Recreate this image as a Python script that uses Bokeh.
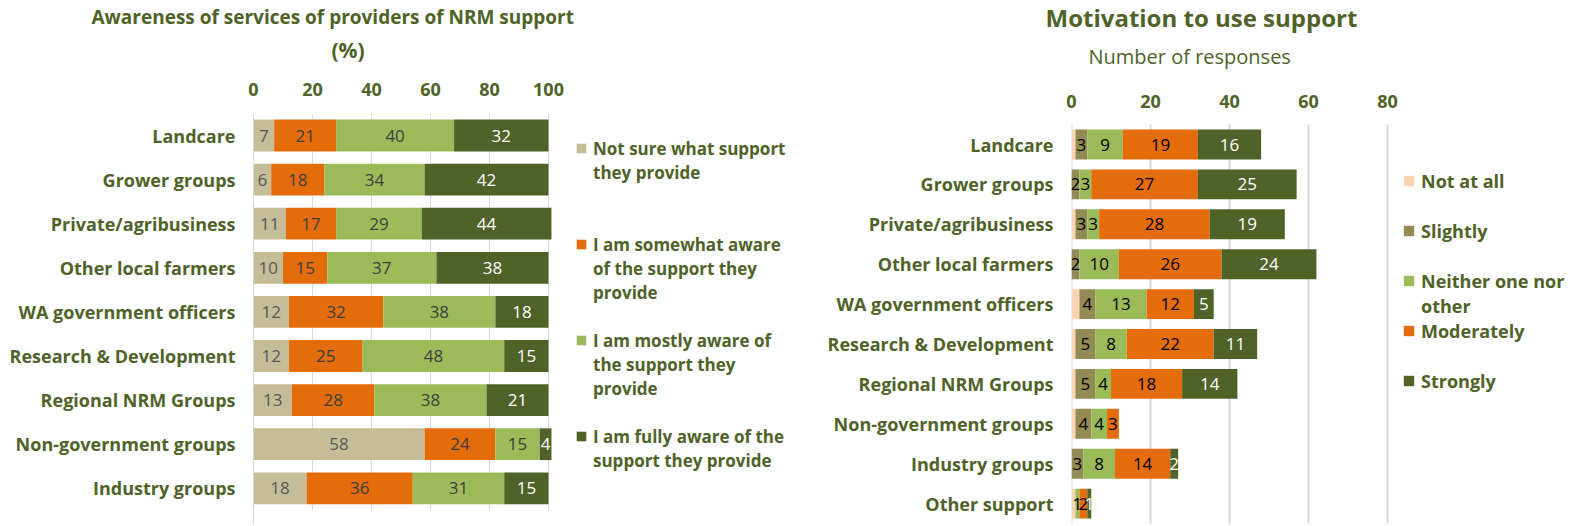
import numpy as np
from bokeh.plotting import figure
from bokeh.models import ColumnDataSource, Range1d, Legend, LegendItem, Title, FixedTicker
from bokeh.layouts import row
from bokeh.embed import file_html
from bokeh.resources import INLINE
from bokeh.core.properties import value

# ---------------- data ----------------
aw_providers = ["Landcare", "Grower groups", "Private/agribusiness", "Other local farmers",
                "WA government officers", "Research & Development", "Regional NRM Groups",
                "Non-government groups", "Industry groups"]
aw_not_sure = [7, 6, 11, 10, 12, 12, 13, 58, 18]
aw_somewhat = [21, 18, 17, 15, 32, 25, 28, 24, 36]
aw_mostly = [40, 34, 29, 37, 38, 48, 38, 15, 31]
aw_fully = [32, 42, 44, 38, 18, 15, 21, 4, 15]
aw_labels = ["Not sure what support\nthey provide",
             "I am somewhat aware\nof the support they\nprovide",
             "I am mostly aware of\nthe support they\nprovide",
             "I am fully aware of the\nsupport they provide"]
aw_ticks = [0, 20, 40, 60, 80, 100]

mo_providers = ["Landcare", "Grower groups", "Private/agribusiness", "Other local farmers",
                "WA government officers", "Research & Development", "Regional NRM Groups",
                "Non-government groups", "Industry groups", "Other support"]
mo_not_at_all = [1, 0, 1, 0, 2, 1, 1, 1, 0, 1]
mo_slightly = [3, 2, 3, 2, 4, 5, 5, 4, 3, 0]
mo_neither = [9, 3, 3, 10, 13, 8, 4, 4, 8, 1]
mo_moderately = [19, 27, 28, 26, 12, 22, 18, 3, 14, 2]
mo_strongly = [16, 25, 19, 24, 5, 11, 14, 0, 2, 1]
mo_labels = ["Not at all", "Slightly", "Neither one nor\nother", "Moderately", "Strongly"]
mo_ticks = [0, 20, 40, 60, 80]

# ---------------- style / geometry ----------------
OLIVE = "#4F6228"
FONT = "Open Sans"
GRID = "#D9D9D9"
FRAME_TOP, FRAME_BOTTOM = 114.0, 524.0   # frames of the two plots are aligned by the row


def y_range_for(pitch, first_center):
    top = -(first_center - FRAME_TOP) / pitch
    bottom = top + (FRAME_BOTTOM - FRAME_TOP) / pitch
    return Range1d(start=bottom, end=top)


def style_axes(p, ticks, cats, tick_standoff, grid_w, axis_line):
    p.outline_line_color = None
    p.grid.visible = False
    xa = p.xaxis[0]
    xa.ticker = FixedTicker(ticks=ticks)
    xa.axis_line_color = None
    xa.major_tick_line_color = None
    xa.minor_tick_line_color = None
    xa.major_tick_out = 0
    xa.major_tick_in = 0
    xa.major_label_text_font = FONT
    xa.major_label_text_font_style = "bold"
    xa.major_label_text_font_size = "18px"
    xa.major_label_text_color = OLIVE
    xa.major_label_standoff = tick_standoff
    ya = p.yaxis[0]
    ya.ticker = FixedTicker(ticks=list(range(len(cats))))
    ya.major_label_overrides = {i: c for i, c in enumerate(cats)}
    ya.axis_line_color = GRID if axis_line else None
    ya.major_tick_line_color = None
    ya.minor_tick_line_color = None
    ya.major_tick_out = 0
    ya.major_tick_in = 0
    ya.major_label_text_font = FONT
    ya.major_label_text_font_style = "bold"
    ya.major_label_text_font_size = "18px"
    ya.major_label_text_color = OLIVE
    ya.major_label_standoff = 18
    # vertical grid lines at the value ticks, spanning the category band
    n = len(cats)
    p.segment(x0=ticks, x1=ticks, y0=[-0.5] * len(ticks), y1=[n - 0.5] * len(ticks),
              line_color=GRID, line_width=grid_w)


def add_labels(p, ypos, series, colors, show):
    cum = np.zeros(len(ypos))
    for vals, col, sh in zip(series, colors, show):
        v = np.array(vals, dtype=float)
        centers = cum + v / 2
        cum = cum + v
        if not sh:
            continue
        keep = [i for i in range(len(ypos)) if vals[i] > 0]
        p.text(x=[centers[i] for i in keep], y=[ypos[i] for i in keep],
               text=[str(vals[i]) for i in keep], text_align="center", text_baseline="middle",
               text_font=value(FONT), text_font_size="17px", text_color=col)


def legend_items(labels, renderers, slots):
    items = []
    for lab, r, n in zip(labels, renderers, slots):
        lines = lab.split("\n")
        items.append(LegendItem(label=lines[0], renderers=[r]))
        for ln in lines[1:]:
            items.append(LegendItem(label=ln, renderers=[]))
        for _ in range(n - len(lines)):
            items.append(LegendItem(label=" ", renderers=[]))
    return items


def make_legend(items, loc, size, line_h, glyph):
    return Legend(items=items, location=loc, border_line_color=None, background_fill_alpha=0,
                  label_text_font=FONT, label_text_font_style="bold", label_text_font_size=size,
                  label_text_color=OLIVE, label_height=line_h, glyph_width=glyph, glyph_height=glyph,
                  label_standoff=6, spacing=0, padding=0, margin=0)


# ---------------- left chart ----------------
aw_y = list(range(len(aw_providers)))
p1 = figure(width=808, height=526, y_range=y_range_for(44.1, 135),
            x_range=Range1d(0, 100 * 555 / 295), x_axis_location="above", output_backend="svg",
            toolbar_location=None, min_border_left=253, min_border_right=0,
            min_border_top=114, min_border_bottom=2)
style_axes(p1, aw_ticks, aw_providers, 19, 1, True)

aw_keys = ["not_sure", "somewhat", "mostly", "fully"]
aw_colors = ["#C4BD97", "#E46C0A", "#9BBB59", "#4F6228"]
src1 = ColumnDataSource(dict(y=aw_y, not_sure=aw_not_sure, somewhat=aw_somewhat,
                             mostly=aw_mostly, fully=aw_fully))
r1 = p1.hbar_stack(aw_keys, y="y", height=0.72, fill_color=aw_colors, line_color=None, source=src1)
add_labels(p1, aw_y, [aw_not_sure, aw_somewhat, aw_mostly, aw_fully],
           ["#595959", "#404040", "#404040", "#FFFFFF"], [True, True, True, True])

p1.add_layout(make_legend(legend_items(aw_labels, r1, [4, 4, 4, 2]), (322, 52), "17px", 24, 12), "center")
p1.add_layout(Title(text="(%)", align="left", offset=78, text_font=FONT, text_font_style="bold",
                    text_font_size="21px", text_color=OLIVE, standoff=31), "above")
p1.add_layout(Title(text="Awareness of services of providers of NRM support", align="left", offset=-162,
                    text_font=FONT, text_font_style="bold", text_font_size="19px", text_color=OLIVE,
                    standoff=-23), "above")

# ---------------- right chart ----------------
mo_y = list(range(len(mo_providers)))
p2 = figure(width=762, height=526, y_range=y_range_for(39.9, 144),
            x_range=Range1d(0, 80 * 499 / 316), x_axis_location="above", output_backend="svg",
            toolbar_location=None, min_border_left=263, min_border_right=0,
            min_border_top=114, min_border_bottom=2)
style_axes(p2, mo_ticks, mo_providers, 7, 2, False)

mo_keys = ["not_at_all", "slightly", "neither", "moderately", "strongly"]
mo_colors = ["#FBD4B4", "#948A54", "#9BBB59", "#E46C0A", "#4F6228"]
src2 = ColumnDataSource(dict(y=mo_y, not_at_all=mo_not_at_all, slightly=mo_slightly,
                             neither=mo_neither, moderately=mo_moderately, strongly=mo_strongly))
r2 = p2.hbar_stack(mo_keys, y="y", height=0.75, fill_color=mo_colors, line_color=None, source=src2)
add_labels(p2, mo_y, [mo_not_at_all, mo_slightly, mo_neither, mo_moderately, mo_strongly],
           ["#000000", "#000000", "#000000", "#000000", "#FFFFFF"], [False, True, True, True, True])

p2.add_layout(make_legend(legend_items(mo_labels, r2, [2, 2, 2, 2, 1]), (331, 131), "18px", 25, 13), "center")
p2.add_layout(Title(text="Number of responses", align="left", offset=17, text_font=FONT,
                    text_font_style="normal", text_font_size="20px", text_color=OLIVE, standoff=43), "above")
p2.add_layout(Title(text="Motivation to use support", align="left", offset=-26, text_font=FONT,
                    text_font_style="bold", text_font_size="24px", text_color=OLIVE, standoff=-28), "above")

layout = row(p1, p2)
open("out.html", "w").write(file_html(layout, INLINE))
